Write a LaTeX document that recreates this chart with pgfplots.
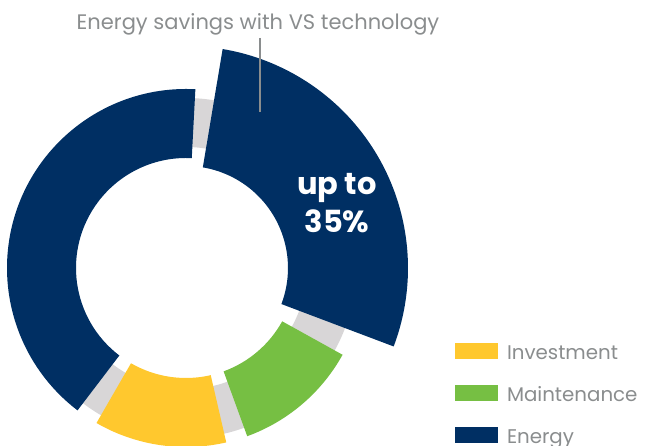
\documentclass[border=0pt]{standalone}
\usepackage{pgfplots}
\pgfplotsset{compat=1.18}
\usepackage{pgfplotstable}
\usepackage{fontspec}
\setmainfont{Poppins}
\definecolor{navy}{HTML}{002F63}
\definecolor{yel}{HTML}{FFC82E}
\definecolor{grn}{HTML}{76BF43}
\definecolor{ringgray}{HTML}{D8D6D7}
\definecolor{txtgray}{HTML}{8A8D8E}
\colorlet{segcol0}{navy}
\colorlet{segcol1}{yel}
\colorlet{segcol2}{grn}
\colorlet{segcol3}{navy}
% start angle, end angle, inner radius, outer radius (px)
\pgfplotstableread{
a1 a2 rin rout
87 232.7 110 179
240 283 110 179
290 331 110 179
-20.7 80.5 102 222
}\segs
\begin{document}
\begin{tikzpicture}
\begin{axis}[
  at={(0,0)}, anchor=south west,
  scale only axis, width=649pt, height=446pt,
  xmin=0, xmax=649, ymin=0, ymax=446,
  hide axis, clip=false,
  legend style={at={(axis cs:455,103)}, anchor=north west, draw=none, fill=none,
    inner sep=0pt, outer sep=0pt, row sep=23pt, column sep=9pt,
    font=\fontsize{19.8}{22}\selectfont, text=txtgray,
    nodes={inner sep=0pt, text height=15pt, text depth=2pt}},
  legend cell align=left,
  legend image code/.code={\fill[#1, draw=none] (0pt,-5.5pt) rectangle (43pt,10.5pt);},
]
\fill[ringgray, even odd rule] (axis cs:186,178) circle[radius=170pt] (axis cs:186,178) circle[radius=121pt];
\pgfplotsforeachungrouped \i in {0,...,3} {
  \pgfplotstablegetelem{\i}{a1}\of\segs \let\aA\pgfplotsretval
  \pgfplotstablegetelem{\i}{a2}\of\segs \let\aB\pgfplotsretval
  \pgfplotstablegetelem{\i}{rin}\of\segs \let\rI\pgfplotsretval
  \pgfplotstablegetelem{\i}{rout}\of\segs \let\rO\pgfplotsretval
  \edef\cmd{\noexpand\fill[segcol\i, shift={(axis cs:186,178)}]
    (\aA:\rI pt) -- (\aA:\rO pt) arc[start angle=\aA, end angle=\aB, radius=\rO pt]
    -- (\aB:\rI pt) arc[start angle=\aB, end angle=\aA, radius=\rI pt] -- cycle;}
  \cmd
}
\addlegendimage{fill=yel, draw=none}
\addlegendentry{Investment}
\addlegendimage{fill=grn, draw=none}
\addlegendentry{Maintenance}
\addlegendimage{fill=navy, draw=none}
\addlegendentry{Energy}
\draw[txtgray, line width=1.6pt] (axis cs:260,408) -- (axis cs:260,334);
\node[anchor=base, text=txtgray, font=\fontsize{21}{24}\selectfont, inner sep=0pt] at (axis cs:258,416) {Energy savings with VS technology};
\node[text=white, font=\fontsize{30.5}{37}\bfseries\selectfont, inner sep=0pt, anchor=base] at (axis cs:337,251) {up to};
\node[text=white, font=\fontsize{30.5}{37}\bfseries\selectfont, inner sep=0pt, anchor=base] at (axis cs:337,213) {35\%};
\end{axis}
\pgfresetboundingbox
\path[use as bounding box] (0,0) rectangle (649pt,446pt);
\end{tikzpicture}
\end{document}
